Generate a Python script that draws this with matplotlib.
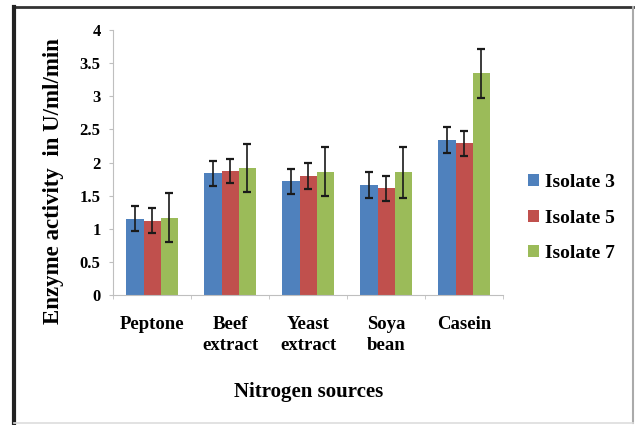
import matplotlib
matplotlib.use("Agg")
import matplotlib.pyplot as plt
import numpy as np
from matplotlib.lines import Line2D

plt.rcParams['font.family'] = ['Liberation Serif', 'DejaVu Serif']
plt.rcParams['font.weight'] = 'bold'

categories = ["Peptone", "Beef\nextract", "Yeast\nextract", "Soya\nbean", "Casein"]
series_names = ["Isolate 3", "Isolate 5", "Isolate 7"]
isolate3 = [1.15, 1.84, 1.72, 1.66, 2.34]
isolate5 = [1.12, 1.87, 1.80, 1.61, 2.29]
isolate7 = [1.17, 1.92, 1.86, 1.85, 3.35]
err3 = [0.19, 0.19, 0.19, 0.19, 0.20]
err5 = [0.19, 0.18, 0.20, 0.19, 0.19]
err7 = [0.37, 0.36, 0.37, 0.38, 0.37]
yticks = [0, 0.5, 1, 1.5, 2, 2.5, 3, 3.5, 4]
ytick_labels = ["0", "0.5", "1", "1.5", "2", "2.5", "3", "3.5", "4"]

colors = ["#4F81BD", "#C0504D", "#9BBB59"]

fig = plt.figure(figsize=(6.36, 4.25), dpi=100)
ax = fig.add_axes([0.178, 0.306, 0.613, 0.623])

x = np.arange(len(categories))
width = 0.22
values = [isolate3, isolate5, isolate7]
errors = [err3, err5, err7]
for i, (vals, errs) in enumerate(zip(values, errors)):
    ax.bar(x + (i - 1) * width, vals, width, color=colors[i], label=series_names[i],
           yerr=errs, error_kw=dict(ecolor="#1a1a1a", elinewidth=1.2, capsize=3, capthick=1.6))

ax.set_xlim(-0.5, len(categories) - 0.5)
ax.set_ylim(0, 4)
ax.set_yticks(yticks)
ax.set_yticklabels(ytick_labels)
ax.set_xticks(x)
ax.set_xticklabels(categories, linespacing=1.35)
ax.set_xticks(np.arange(-0.5, len(categories), 1), minor=True)
ax.tick_params(axis='x', which='major', length=0, pad=15, labelsize=13.5)
ax.tick_params(axis='x', which='minor', length=3, color="#bfbfbf")
ax.tick_params(axis='y', length=3, color="#bfbfbf", labelsize=12, pad=6)
for s in ["top", "right"]:
    ax.spines[s].set_visible(False)
for s in ["left", "bottom"]:
    ax.spines[s].set_color("#bfbfbf")

ax.set_ylabel("Enzyme activity  in U/ml/min", fontsize=16.5, fontweight='bold')
ax.yaxis.set_label_coords(-0.125, 0.43)
ax.set_xlabel("Nitrogen sources", fontsize=15, fontweight='bold', labelpad=20)

ax.legend(loc="center left", bbox_to_anchor=(1.02, 0.29), frameon=False,
          fontsize=14, handlelength=0.55, handleheight=0.55, handletextpad=0.3,
          labelspacing=0.95)

# outer frame around the figure
W, H = 636, 425
def fline(xs, ys, color, lw):
    fig.add_artist(Line2D([v / W for v in xs], [1 - v / H for v in ys],
                          color=color, lw=lw, transform=fig.transFigure))
fline([14, 633], [7, 7], "#333333", 2.0)
fline([14, 14], [7, 423], "#222222", 3.0)
fline([633, 633], [7, 423], "#aaaaaa", 1.5)
fline([14, 633], [423, 423], "#dddddd", 1.2)

fig.savefig("out.png", dpi=100)
